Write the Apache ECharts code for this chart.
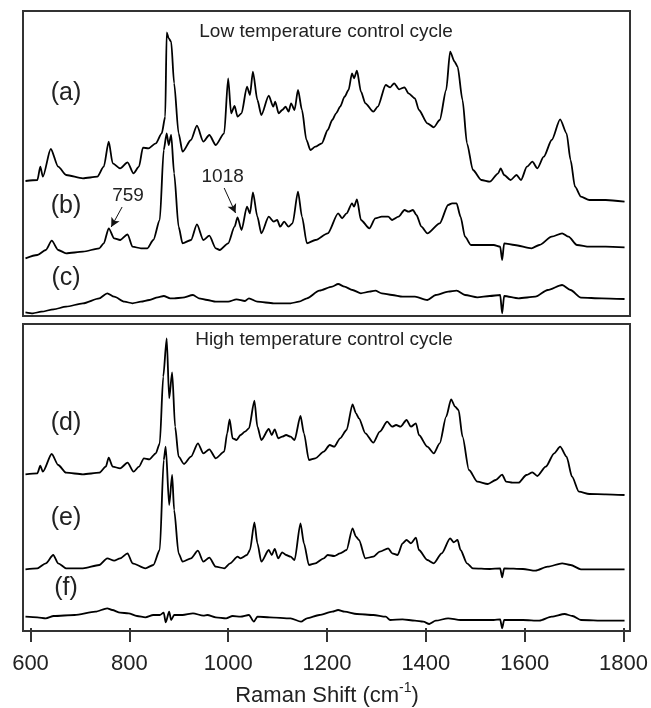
<!DOCTYPE html>
<html><head><meta charset="utf-8">
<script src="https://cdn.jsdelivr.net/npm/echarts@6/dist/echarts.min.js"></script>
<style>html,body{margin:0;padding:0;background:#fff}#c{width:651px;height:708px}</style>
</head><body><div id="c"></div>
<script>
// x = Raman shift (cm^-1), y = offset intensity (arb. units)
const specA = [[590,135],[614,136],[620,149.3],[625,139.3],[641,167],[656,149.3],[672,141],[706,137.7],[735,139.3],[748,149.3],[758,174.3],[766,152.7],[781,147.7],[796,153.7],[808,142.7],[819,149.3],[827,168.3],[838,167.7],[853,172.7],[865,182.7],[872,199.3],[875,283.7],[879,277.7],[884,274.3],[890,232.7],[899,182.7],[907,164.3],[924,176],[936,190.3],[949,174.3],[961,181],[974,171],[991,182.7],[999,237.7],[1005,202.7],[1012,210],[1018,199.3],[1026,202.7],[1037,229.3],[1043,221],[1049,244.3],[1058,216],[1066,201],[1081,220.3],[1090,209.3],[1094,214.3],[1101,202.7],[1108,206],[1115,209.3],[1121,204.3],[1126,212.7],[1133,206],[1140,226],[1148,206],[1157,176],[1165,166],[1175,169.3],[1188,172.7],[1200,186],[1209,196],[1217,202.7],[1225,209.3],[1234,219.3],[1242,226],[1249,242.7],[1253,237.7],[1259,245.3],[1267,224.3],[1276,212.7],[1292,204.3],[1301,209.3],[1317,231],[1326,228.7],[1334,232.7],[1344,226.7],[1355,228.7],[1363,222.7],[1376,217.7],[1384,206],[1401,192.7],[1414,188.7],[1426,196],[1439,226],[1447,264.3],[1456,254.3],[1462,249.3],[1472,216],[1481,172.7],[1493,146],[1510,136],[1527,134.3],[1544,142.7],[1549,147.7],[1556,141],[1569,136],[1581,141],[1590,136],[1602,149.3],[1613,154.3],[1623,147.7],[1636,159.3],[1652,176],[1669,196.7],[1682,182.7],[1690,156],[1699,129.3],[1711,119.3],[1728,116],[1761,116],[1799,114.3]];
const specB = [[590,57.7],[614,61],[631,66],[643,75.3],[656,66],[672,62.7],[706,64.3],[739,67.7],[748,72.7],[758,87.7],[769,77.7],[781,76],[796,81.7],[806,69.3],[823,67.7],[836,67.7],[848,76],[861,96],[869,166],[875,182.7],[879,171],[884,181],[890,142.7],[899,89.3],[907,72.7],[924,76],[936,91.7],[949,76],[961,80.3],[974,67.7],[982,66],[999,72.7],[1012,89.3],[1018,98.7],[1026,86],[1037,109.3],[1043,102.7],[1049,123.7],[1058,99.3],[1066,82.7],[1081,99.3],[1091,94.3],[1098,96],[1104,89.3],[1112,94.3],[1121,89.3],[1129,92.7],[1140,124.3],[1148,99.3],[1158,72.7],[1175,76],[1200,82.7],[1221,102.7],[1229,97.7],[1238,102.7],[1249,112.7],[1253,109.3],[1259,116.7],[1267,96],[1284,87.7],[1296,97.7],[1309,99.3],[1322,99.3],[1330,96],[1343,99.3],[1355,106],[1363,104.3],[1372,106],[1379,101],[1389,89.3],[1401,82.7],[1426,92.7],[1443,111],[1451,112.7],[1460,112.7],[1468,99.3],[1477,79.3],[1489,71],[1510,71],[1535,71],[1548,69.3],[1552,56],[1556,72.7],[1577,71],[1611,67.7],[1627,71],[1652,79.3],[1673,82.7],[1686,79.3],[1703,71],[1728,69.3],[1761,69.3],[1799,68.7]];
const specC = [[590,3.7],[605,2.7],[622,4.3],[647,6.7],[672,9.3],[706,12.7],[739,17.7],[755,22.7],[769,19.3],[790,14.3],[806,12.7],[823,14.3],[840,16],[857,18.7],[869,20],[882,17.7],[890,17.7],[907,18.3],[928,21],[940,17.7],[957,16],[974,14.3],[999,14.3],[1016,16.7],[1033,15],[1041,17.7],[1058,14.3],[1091,12.7],[1125,12.7],[1142,14.3],[1158,17.7],[1183,25.3],[1209,29.3],[1221,32],[1234,29.3],[1250,26],[1267,22.7],[1284,24.3],[1296,25.3],[1309,22.7],[1330,21],[1351,19.3],[1376,19.3],[1401,16],[1418,21],[1443,24.3],[1460,25.3],[1477,21],[1502,18.7],[1527,20],[1548,21],[1552,2.7],[1556,20],[1585,17.7],[1619,19.3],[1644,26],[1673,31],[1690,26],[1711,18.3],[1753,17.7],[1799,17]];
const specD = [[590,156.7],[614,157.7],[620,165.3],[625,159.3],[643,177],[656,166],[672,158.3],[706,156.7],[739,158.3],[752,164.3],[758,173.3],[766,164.3],[781,162.7],[796,168.3],[808,159.3],[819,164.3],[829,172.7],[840,171.7],[853,177.7],[861,187.7],[868,254.3],[875,292.7],[880,232.7],[886,258.7],[892,204.3],[899,174.3],[910,167],[924,174.3],[938,187.7],[949,177.7],[961,181.7],[974,172.7],[991,179.3],[997,197.7],[1002,211.7],[1008,192.7],[1016,191],[1024,196],[1033,199.3],[1041,202.7],[1052,230.3],[1058,204.3],[1066,191],[1081,202],[1087,196],[1093,201.7],[1100,192.7],[1108,194.3],[1116,196],[1125,194.3],[1133,191],[1145,215],[1152,197.7],[1162,171],[1175,172.7],[1192,179.3],[1204,186],[1213,184.3],[1225,192.7],[1238,201],[1250,226.7],[1257,217.7],[1263,212.7],[1276,197.7],[1292,188.3],[1305,199.3],[1320,209.3],[1330,204.3],[1338,206],[1347,204.3],[1359,211],[1368,204.3],[1378,207.7],[1384,196],[1401,184.3],[1414,177.7],[1426,187.7],[1439,214.3],[1449,231.7],[1457,224.3],[1464,221],[1472,194.3],[1485,161],[1502,149.3],[1523,147],[1539,151],[1552,156.3],[1560,149.3],[1573,148.3],[1585,148.3],[1601,156],[1613,158.7],[1623,155],[1640,164.3],[1657,177.7],[1669,184.3],[1682,174.3],[1693,154.3],[1707,139.3],[1728,137],[1761,136.7],[1799,136]];
const specE = [[590,61.7],[614,62.7],[631,67.7],[646,76],[656,67.7],[672,62.7],[706,62.7],[739,66],[755,72.7],[769,70.3],[781,72.7],[796,77.7],[806,67.7],[832,62.7],[848,66],[861,81],[869,171],[873,184.3],[880,126],[886,156],[890,121],[899,77.7],[907,69.3],[924,72.7],[938,80.3],[949,69.3],[961,73.3],[974,64.3],[991,62.7],[1003,67.7],[1018,74.3],[1024,72.7],[1037,76],[1043,81],[1052,108.7],[1058,87.7],[1066,69.3],[1081,81],[1087,76],[1093,82],[1100,72.7],[1108,78.7],[1116,76],[1125,74.3],[1133,71],[1145,107.7],[1152,87.7],[1162,66],[1175,67.7],[1192,72.7],[1200,76],[1213,75],[1225,77.7],[1238,81],[1250,102.7],[1257,94.3],[1263,91],[1276,72.7],[1292,74.3],[1305,79.3],[1322,82.7],[1330,77.7],[1341,76],[1351,87.7],[1359,91],[1368,87.7],[1378,93.3],[1384,81],[1401,71],[1414,67.7],[1430,77.7],[1447,92.7],[1454,88.7],[1462,91],[1468,81],[1481,67.7],[1493,62.7],[1527,62],[1548,62.7],[1552,53.7],[1556,62.7],[1594,62],[1619,60.3],[1644,64.3],[1673,67.7],[1690,66],[1711,61.7],[1753,61.7],[1799,61.7]];
const specF = [[590,14.3],[614,13.7],[631,12.7],[647,15],[689,16],[731,19.3],[755,22.7],[765,21],[781,18.3],[798,17.7],[815,15],[832,13.7],[848,16],[861,16],[869,18.3],[873,8.7],[880,19.3],[884,11],[890,16],[907,16],[928,17.7],[949,15.3],[957,16],[974,13.7],[995,12.7],[1008,15],[1024,14.3],[1041,16],[1051,9.3],[1058,14.3],[1083,13.7],[1125,12.7],[1146,9.3],[1158,12.7],[1183,16],[1209,19.3],[1221,21],[1234,19.3],[1259,17],[1292,16],[1317,14.3],[1326,11],[1351,11.7],[1376,10.3],[1393,9.3],[1405,7],[1418,10.3],[1443,12.7],[1468,11],[1502,11],[1535,11],[1548,11.7],[1552,2.7],[1556,11],[1594,11],[1627,10.3],[1652,14.3],[1678,17],[1694,15],[1711,11],[1761,10.3],[1799,10.3]];
const xTicks = [600, 800, 1000, 1200, 1400, 1600, 1800];
const panelTitles = ['Low temperature control cycle', 'High temperature control cycle'];
const traceLabels = ['(a)', '(b)', '(c)', '(d)', '(e)', '(f)'];
const peakNotes = [['759', [785, 109], [763, 89]], ['1018', [991, 128], [1014, 103]]];

const FONT = 'Liberation Sans, Arial, Helvetica, sans-serif';
const chart = echarts.init(document.getElementById('c'), null, {renderer: 'canvas'});
const lineSeries = (data, idx) => ({
  type: 'line', data: data, xAxisIndex: idx, yAxisIndex: idx,
  showSymbol: false, smooth: 0.25, smoothMonotone: 'x',
  lineStyle: {color: '#000', width: 1.8}, silent: true, animation: false
});
const series = [
  lineSeries(specA, 0),
  Object.assign(lineSeries(specB, 0), {
    markLine: {
      silent: true, symbol: ['none', 'arrow'], symbolSize: [7, 9], animation: false,
      lineStyle: {color: '#111', width: 1, type: 'solid'}, label: {show: false},
      data: peakNotes.map(p => [{coord: p[1]}, {coord: p[2]}])
    },
    markPoint: {
      symbol: 'circle', symbolSize: 0, silent: true, animation: false,
      label: {show: true, position: 'top', distance: 0, fontFamily: FONT, fontSize: 19, color: '#222', formatter: p => p.name},
      data: peakNotes.map(p => ({name: p[0], coord: [p[1][0] + (p[0] === '759' ? 12 : -3), p[1][1] + 2]}))
    }
  }),
  lineSeries(specC, 0),
  lineSeries(specD, 1),
  lineSeries(specE, 1),
  lineSeries(specF, 1)
];
const labelPos = [[66, 93], [66, 206], [66, 278], [66, 423], [66, 518], [66, 588]];
const graphics = traceLabels.map((t, i) => ({
  type: 'text', x: labelPos[i][0], y: labelPos[i][1], silent: true,
  style: {text: t, fontFamily: FONT, fontSize: 25, fill: '#222', align: 'center', verticalAlign: 'middle'}
}));
graphics.push({type: 'text', x: 326, y: 32, silent: true, style: {text: panelTitles[0], fontFamily: FONT, fontSize: 19, fill: '#222', align: 'center', verticalAlign: 'middle'}});
graphics.push({type: 'text', x: 324, y: 340, silent: true, style: {text: panelTitles[1], fontFamily: FONT, fontSize: 19, fill: '#222', align: 'center', verticalAlign: 'middle'}});

chart.setOption({
  animation: false,
  backgroundColor: '#fff',
  grid: [
    {left: 23, top: 11, width: 607, height: 305, show: true, borderColor: '#333', borderWidth: 2, backgroundColor: 'transparent'},
    {left: 23, top: 324, width: 607, height: 307, show: true, borderColor: '#333', borderWidth: 2, backgroundColor: 'transparent'},
    {left: 30.5, top: 324, width: 594.5, height: 307, show: false}
  ],
  xAxis: [
    {type: 'value', gridIndex: 0, min: 585, max: 1810, show: false},
    {type: 'value', gridIndex: 1, min: 585, max: 1810, show: false},
    {type: 'value', gridIndex: 2, min: xTicks[0], max: xTicks[xTicks.length - 1], interval: 200, position: 'bottom',
      axisLine: {show: false}, splitLine: {show: false},
      axisTick: {show: true, length: 14, inside: false, lineStyle: {color: '#333', width: 2}},
      axisLabel: {fontFamily: FONT, fontSize: 22, color: '#222', margin: 25, showMinLabel: true, showMaxLabel: true,
        formatter: v => String(v)},
      name: '{a|Raman Shift (cm}{s|-1}{a|)}', nameLocation: 'middle', nameGap: 53,
      nameTextStyle: {fontFamily: FONT, fontSize: 22, color: '#222',
        rich: {a: {fontFamily: FONT, fontSize: 22, color: '#222', lineHeight: 26, verticalAlign: 'bottom'},
               s: {fontFamily: FONT, fontSize: 14, color: '#222', lineHeight: 26, verticalAlign: 'top'}}}
    }
  ],
  yAxis: [
    {type: 'value', gridIndex: 0, min: 0, max: 305, show: false},
    {type: 'value', gridIndex: 1, min: 0, max: 307, show: false},
    {type: 'value', gridIndex: 2, min: 0, max: 1, show: false}
  ],
  graphic: graphics,
  series: series
});
</script></body></html>
